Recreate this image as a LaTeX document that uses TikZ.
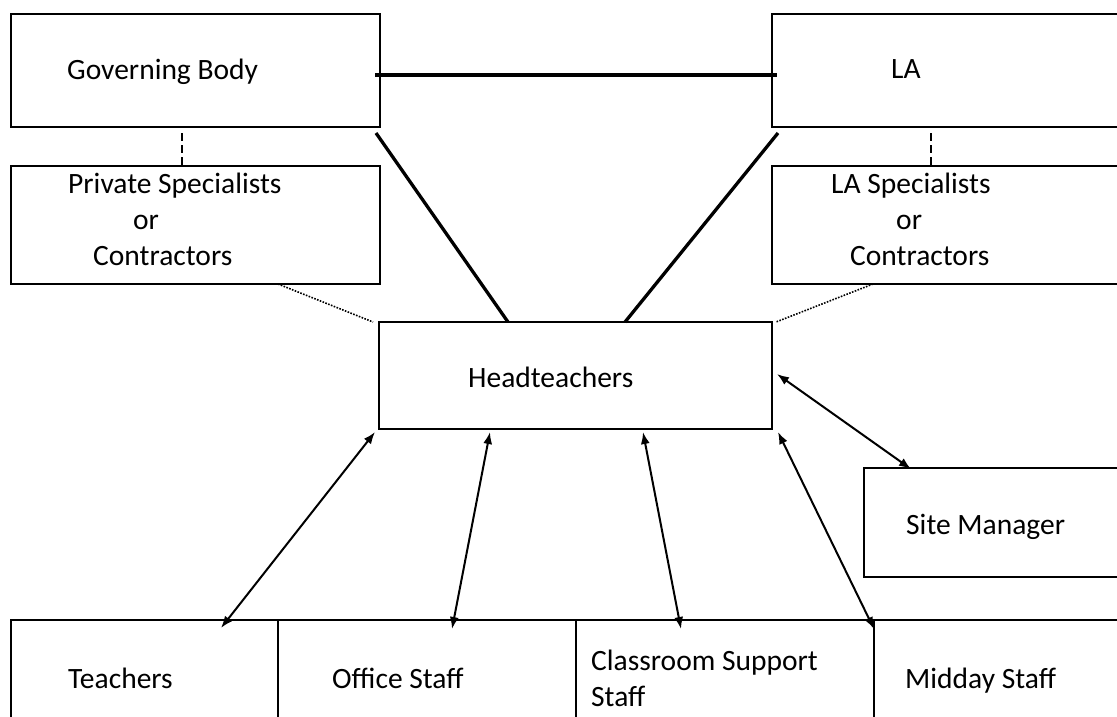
\documentclass[tikz,border=0pt]{standalone}
\usepackage{fontspec}
\setmainfont{Carlito}
\usetikzlibrary{calc,arrows.meta}
\tikzset{
  box/.style={draw, line width=2.2pt, rectangle, inner sep=0pt, outer sep=0pt, anchor=north west},
  txt/.style={anchor=base west, inner sep=0pt, font=\fontsize{29.5}{35}\selectfont},
  thickline/.style={line width=3.3pt},
  dashline/.style={line width=1.8pt, dash pattern=on 8pt off 4pt},
  dotline/.style={line width=1.6pt, dash pattern=on 1.6pt off 1.4pt},
  dbl/.style={line width=2pt, {Latex[length=12pt,width=9pt]}-{Latex[length=12pt,width=9pt]}}
}
\begin{document}
\begin{tikzpicture}[x=1pt,y=-1pt]
\clip (0,0) rectangle (1117,716);
\fill[white] (0,0) rectangle (1117,716);
% boxes
\node[box, minimum width=369pt, minimum height=113pt] (gb) at (11,14) {};
\node[box, minimum width=369pt, minimum height=118pt] (ps) at (11,166) {};
\node[box, minimum width=360pt, minimum height=113pt] (la) at (772,14) {};
\node[box, minimum width=360pt, minimum height=118pt] (las) at (772,166) {};
\node[box, minimum width=393pt, minimum height=107pt] (head) at (379,322) {};
\node[box, minimum width=270pt, minimum height=109pt] (site) at (864,468) {};
\node[box, minimum width=267pt, minimum height=120pt] (teach) at (11,620) {};
\node[box, minimum width=298pt, minimum height=120pt] (office) at (278,620) {};
\node[box, minimum width=298pt, minimum height=120pt] (class) at (576,620) {};
\node[box, minimum width=260pt, minimum height=120pt] (midday) at (874,620) {};
% texts
\node[txt] (tgb) at (67,79) {Governing Body};
\node[txt] (tps1) at (68,193) {Private Specialists};
\node[txt] (tps2) at (133,229) {or};
\node[txt] (tps3) at (93,265) {Contractors};
\node[txt] (tla) at (891,78) {LA};
\node[txt] (tlas1) at (831,193) {LA Specialists};
\node[txt] (tlas2) at (896,229) {or};
\node[txt] (tlas3) at (850,265) {Contractors};
\node[txt] (thead) at (468,387) {Headteachers};
\node[txt] (tsite) at (906,534) {Site Manager};
\node[txt] (tteach) at (68,688) {Teachers};
\node[txt] (toffice) at (332,688) {Office Staff};
\node[txt] (tclass1) at (591,670) {Classroom Support};
\node[txt] (tclass2) at (591,706) {Staff};
\node[txt] (tmid) at (905,688) {Midday Staff};
% connectors
\draw[thickline] ($(gb.north east)+(-5,61)$) -- ($(la.north west)+(5,61)$);
\draw[thickline] ($(gb.south east)+(-4,6)$) -- ($(head.north west)+(129,0)$);
\draw[thickline] ($(la.south west)+(6,6)$) -- ($(head.north west)+(246,0)$);
\draw[dashline] ($(gb.south west)+(171,6)$) -- ($(ps.north west)+(171,0)$);
\draw[dashline] ($(la.south west)+(159,6)$) -- ($(las.north west)+(159,0)$);
\draw[dotline] ($(ps.south west)+(267,0)$) -- ($(head.north west)+(-6,0)$);
\draw[dotline] ($(las.south west)+(101,0)$) -- ($(head.north east)+(4,0)$);
\draw[dbl] ($(head.south west)+(-4,3)$) -- ($(teach.north west)+(210,8)$);
\draw[dbl] ($(head.south west)+(111,3)$) -- ($(office.north west)+(174,9)$);
\draw[dbl] ($(head.south west)+(264,3)$) -- ($(class.north west)+(105,9)$);
\draw[dbl] ($(head.south east)+(6,3)$) -- ($(midday.north west)+(0,9)$);
\draw[dbl] ($(head.east)+(5,-1.5)$) -- ($(site.north west)+(47,1)$);
\end{tikzpicture}
\end{document}
